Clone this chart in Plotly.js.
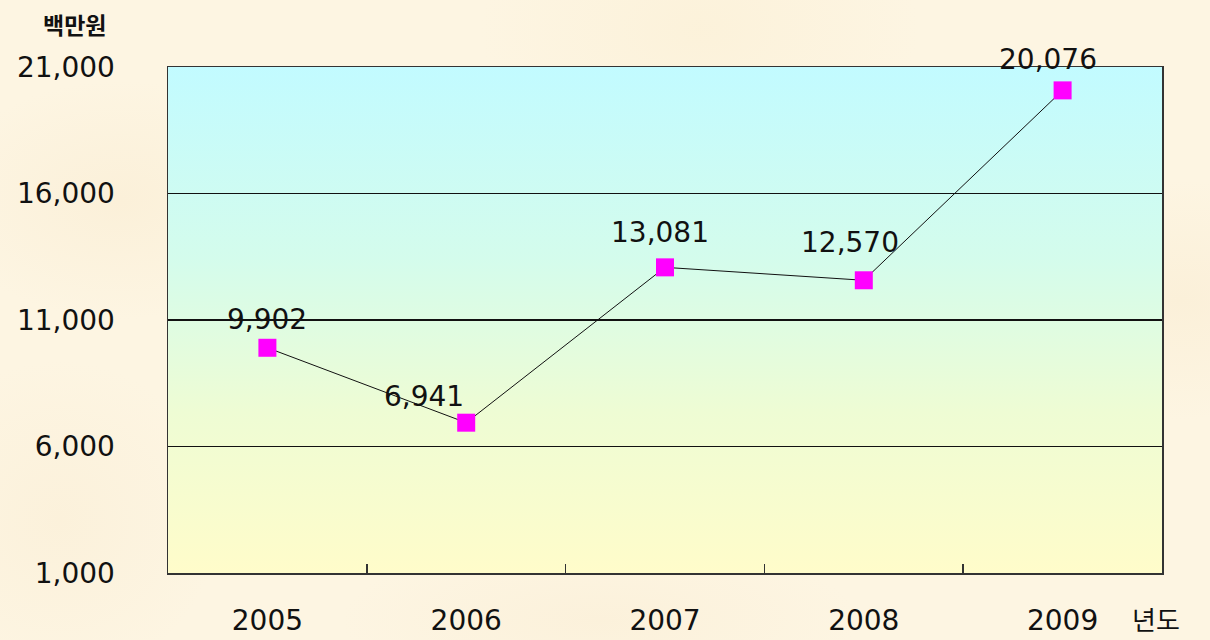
<!DOCTYPE html>
<html>
<head>
<meta charset="utf-8">
<script src="https://cdn.plot.ly/plotly-3.0.1.min.js"></script>
<style>
  html, body { margin: 0; padding: 0; }
  body {
    width: 1210px; height: 640px; overflow: hidden;
    background-color: #FDF5E2;
    background-image:
      radial-gradient(ellipse 180px 120px at 120px 200px, rgba(245,225,190,0.25), rgba(0,0,0,0)),
      radial-gradient(ellipse 220px 140px at 700px 30px, rgba(248,232,195,0.25), rgba(0,0,0,0)),
      radial-gradient(ellipse 200px 120px at 1180px 300px, rgba(245,225,190,0.25), rgba(0,0,0,0)),
      radial-gradient(ellipse 260px 80px at 600px 620px, rgba(245,225,190,0.2), rgba(0,0,0,0)),
      radial-gradient(ellipse 160px 160px at 60px 520px, rgba(245,225,190,0.2), rgba(0,0,0,0));
  }
  #chart { width: 1210px; height: 640px; }
</style>
</head>
<body>
<div id="chart"></div>
<script>
// Data
const years = ['2005', '2006', '2007', '2008', '2009'];
const values = [9902, 6941, 13081, 12570, 20076];
const valueLabels = ['9,902', '6,941', '13,081', '12,570', '20,076'];
const yTickValues = [1000, 6000, 11000, 16000, 21000];
const yTickLabels = ['1,000', '6,000', '11,000', '16,000', '21,000'];
const yUnit = '백만원';
const xUnit = '년도';

// Label offsets (pixels) relative to each marker
const labelDx = [0, -42, -5, -14, -15];
const labelDy = [28, 26, 35, 38, 31];

const gradSvg = '<svg xmlns="http://www.w3.org/2000/svg" width="100" height="100" preserveAspectRatio="none">' +
  '<defs><linearGradient id="g" x1="0" y1="0" x2="0" y2="1">' +
  '<stop offset="0" stop-color="#C2FBFF"/>' +
  '<stop offset="0.38" stop-color="#D4FCEC"/>' +
  '<stop offset="0.68" stop-color="#EEFCD4"/>' +
  '<stop offset="1" stop-color="#FFFCCA"/>' +
  '</linearGradient></defs><rect width="100" height="100" fill="url(#g)"/></svg>';
const gradUri = 'data:image/svg+xml;base64,' + btoa(gradSvg);

const fontNum = 'DejaVu Sans, Liberation Sans, sans-serif';
const fontKo = 'Noto Sans CJK KR, sans-serif';

const trace = {
  x: years,
  y: values,
  type: 'scatter',
  mode: 'lines+markers',
  line: { color: '#111111', width: 1 },
  marker: { symbol: 'square', size: 18, color: '#FF00FF', line: { width: 0 } },
  hoverinfo: 'skip',
  cliponaxis: false
};

const annotations = years.map((yr, i) => ({
  x: i, y: values[i], xref: 'x', yref: 'y',
  text: valueLabels[i], showarrow: false,
  xshift: labelDx[i], yshift: labelDy[i],
  font: { family: fontNum, size: 28, color: '#111111' }
}));
annotations.push({
  xref: 'paper', yref: 'paper', x: -0.128, y: 1.0, yshift: 43,
  xanchor: 'left', yanchor: 'middle', showarrow: false,
  text: '<b>' + yUnit + '</b>',
  font: { family: fontKo, size: 23, color: '#111111' }
});
annotations.push({
  xref: 'paper', yref: 'paper', x: 1.0, y: 0, yshift: -45, xshift: -32,
  xanchor: 'left', yanchor: 'middle', showarrow: false,
  text: xUnit,
  font: { family: fontKo, size: 26, color: '#111111' }
});

const layout = {
  width: 1210, height: 640,
  margin: { l: 168, r: 48, t: 67, b: 67 },
  paper_bgcolor: 'rgba(0,0,0,0)',
  plot_bgcolor: 'rgba(0,0,0,0)',
  showlegend: false,
  images: [{
    source: gradUri, xref: 'x domain', yref: 'y domain',
    x: 0, y: 1, sizex: 1, sizey: 1, sizing: 'stretch',
    xanchor: 'left', yanchor: 'top', layer: 'below'
  }],
  xaxis: {
    type: 'category',
    range: [-0.5, 4.5],
    showgrid: false, zeroline: false,
    showline: true, linecolor: '#333333', linewidth: 1.5, mirror: true,
    ticks: 'inside', tickson: 'boundaries', ticklen: 9, tickcolor: '#333333', tickwidth: 1.5,
    tickfont: { family: fontNum, size: 28, color: '#111111' },
    ticklabelstandoff: 22,
    fixedrange: true
  },
  yaxis: {
    range: [1000, 21000],
    tickvals: yTickValues, ticktext: yTickLabels,
    showgrid: true, gridcolor: '#111111', gridwidth: 1.2,
    zeroline: false,
    showline: true, linecolor: '#333333', linewidth: 1.5, mirror: true,
    ticks: '',
    tickfont: { family: fontNum, size: 28, color: '#111111' },
    ticklabelstandoff: 46,
    fixedrange: true
  },
  annotations: annotations
};

Plotly.newPlot('chart', [trace], layout, { displayModeBar: false, staticPlot: true });
</script>
</body>
</html>
